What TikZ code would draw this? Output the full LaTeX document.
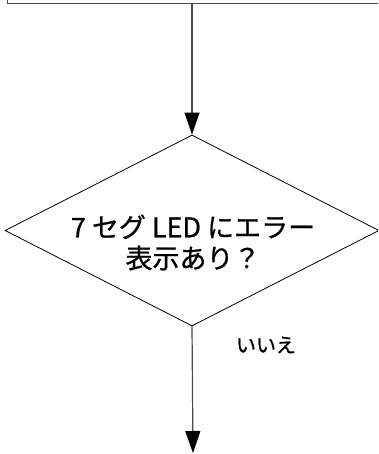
\documentclass[tikz,border=0pt]{standalone}
\usepackage{fontspec}
\setmainfont{Noto Sans CJK JP}[BoldFont={Noto Sans CJK JP}, BoldFeatures={FakeBold=0.8}]
\usetikzlibrary{shapes.geometric,arrows.meta}
\tikzset{
  conn/.style={draw=black!70, line width=1.2pt, -{Triangle[length=22pt,width=15pt,fill=black,color=black]}},
  procbox/.style={draw=black!70, line width=1.3pt, rectangle, inner sep=0pt, anchor=south west},
  decision/.style={draw=black, line width=0.8pt, diamond, inner sep=0pt, minimum width=374pt, minimum height=191pt},
  dtext/.style={align=center, font=\fontsize{27}{31}\selectfont\bfseries, inner sep=0pt},
  lbl/.style={font=\fontsize{20}{22}\selectfont\bfseries, inner sep=0pt}
}
\begin{document}
\begin{tikzpicture}[x=1pt,y=1pt]
\useasboundingbox (0,0) rectangle (378,454);
\clip (0,0) rectangle (378,454);
\node[procbox, minimum width=390pt, minimum height=40pt] (top) at (7,450) {};
\node[decision] (d) at (192,223.5) {};
\node[dtext] (dt) at (193,211.5) {7 セグ LED にエラー\\表示あり？};
\coordinate (end) at (193,1);
\coordinate (start) at (top.south -| d.north);
\draw[conn] (start) -- (d.north);
\draw[conn] (d.south) -- (end);
\node[lbl] (no) at (266,109) {いいえ};
\end{tikzpicture}
\end{document}
